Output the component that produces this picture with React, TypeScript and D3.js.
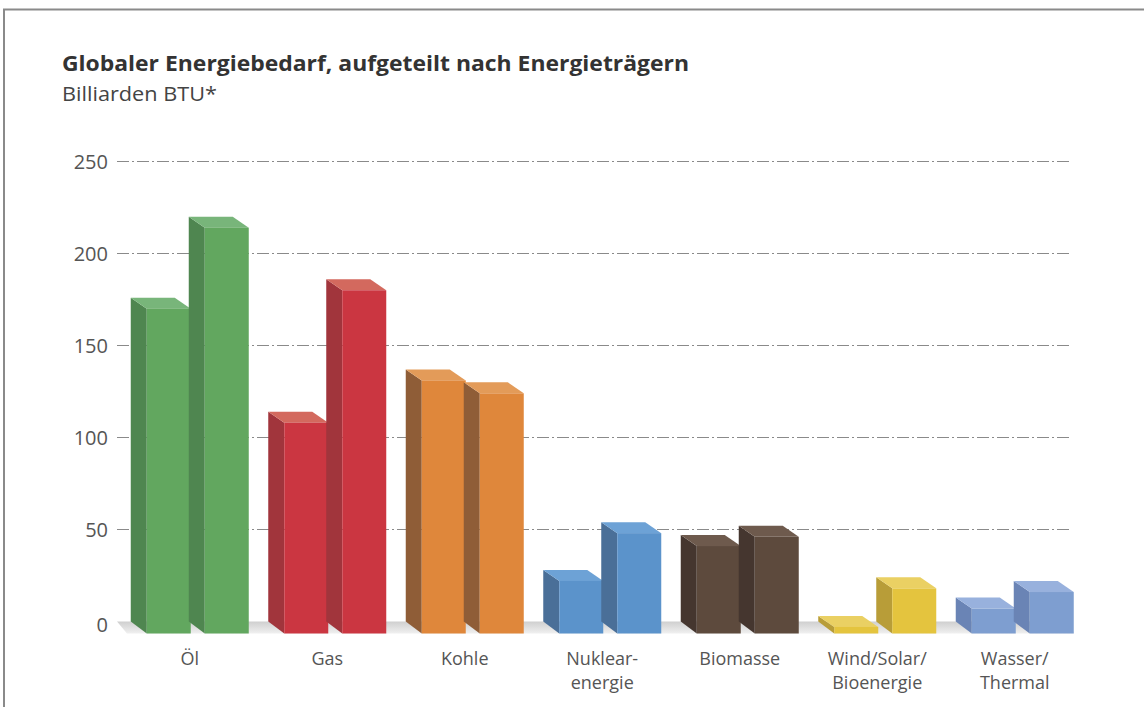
import React from "react";
import * as d3 from "d3";

const categories = ["Öl", "Gas", "Kohle", "Nuklear-\nenergie", "Biomasse", "Wind/Solar/\nBioenergie", "Wasser/\nThermal"];
const seriesA = [176, 114, 137, 28, 47, 3, 13];
const seriesB = [220, 186, 130, 54, 52, 24, 22];
const yTicks = [0, 50, 100, 150, 200, 250];
const frontColors = ["#62a75f", "#cb3641", "#df873b", "#5b93cb", "#5d4a3d", "#e4c43e", "#7e9ed0"];
const sideColors = ["#4f8650", "#a1353c", "#8f5d37", "#4a6f98", "#45362f", "#b89d38", "#6a84b5"];
const topColors = ["#78b57a", "#d3695e", "#e39b59", "#6da2d6", "#6e5a4d", "#ead063", "#98b1dd"];

const W = 1144;
const H = 707;
const DX = 16;
const DY = 11;

export default function App() {
  const y = d3.scaleLinear().domain([0, 250]).range([621.5, 161.5]);
  const x = d3.scaleBand<string>().domain(categories).range([121, 121 + 7 * 137.5]).paddingInner(0);
  const sub = d3.scaleBand<string>().domain(["A", "B"]).range([-43, 59]).paddingInner(0.2414);
  const bw = sub.bandwidth();

  const bars: any[] = [];
  categories.forEach((c, i) => {
    const cx = (x(c) as number) + x.bandwidth() / 2;
    [["A", seriesA[i]], ["B", seriesB[i]]].forEach(([k, v]) => {
      const fx = cx + (sub(k as string) as number);
      const backTop = y(v as number);
      const backBase = y(0);
      const fTop = backTop + DY;
      const fBase = backBase + DY + 1;
      bars.push(
        <g key={c + k}>
          <polygon points={`${fx - DX},${backTop} ${fx},${fTop} ${fx},${fBase} ${fx - DX},${backBase}`} fill={sideColors[i]} />
          <polygon points={`${fx - DX},${backTop} ${fx - DX + bw},${backTop} ${fx + bw},${fTop} ${fx},${fTop}`} fill={topColors[i]} />
          <rect x={fx} y={fTop} width={bw} height={fBase - fTop} fill={frontColors[i]} />
        </g>
      );
    });
  });

  const gridX0 = 117;
  const gridX1 = 1070;

  return (
    <svg width={W} height={H} style={{ position: "absolute", left: 0, top: 0, background: "#fff" }} fontFamily="'Open Sans', sans-serif">
      <defs>
        <linearGradient id="floor" x1="0" y1="0" x2="0" y2="1">
          <stop offset="0" stopColor="#cfcfcf" />
          <stop offset="1" stopColor="#f0f0f0" />
        </linearGradient>
      </defs>
      <rect x={4} y={9.5} width={W + 20} height={H + 20} fill="none" stroke="#8a8a8a" strokeWidth={2} />
      <text x={62} y={71} fontSize={22} fontWeight="bold" fill="#333" textLength={627} lengthAdjust="spacingAndGlyphs">
        Globaler Energiebedarf, aufgeteilt nach Energieträgern
      </text>
      <text x={62} y={101} fontSize={20} fill="#444" textLength={155} lengthAdjust="spacingAndGlyphs">
        Billiarden BTU*
      </text>
      {yTicks.filter((t) => t > 0).map((t) => (
        <line key={t} x1={gridX0} x2={gridX1} y1={y(t)} y2={y(t)} stroke="#8a8a8a" strokeWidth={1.2} strokeDasharray="12 3 2 3" />
      ))}
      {yTicks.map((t) => (
        <text key={t} x={108} y={y(t) + (t === 0 ? 10 : 7)} textAnchor="end" fontSize={20} fill="#555">
          {t}
        </text>
      ))}
      <polygon points={`${gridX0},${y(0)} ${gridX1},${y(0)} ${gridX1 + 4},${y(0) + 12} ${gridX0 + 10},${y(0) + 12}`} fill="url(#floor)" />
      {bars}
      {categories.map((c) => {
        const cx = (x(c) as number) + x.bandwidth() / 2;
        const lines = c.split("\n");
        return (
          <g key={c}>
            {lines.map((l, j) => (
              <text key={j} x={cx} y={665 + j * 24} textAnchor="middle" fontSize={18} fill="#555">{l}</text>
            ))}
          </g>
        );
      })}
    </svg>
  );
}
